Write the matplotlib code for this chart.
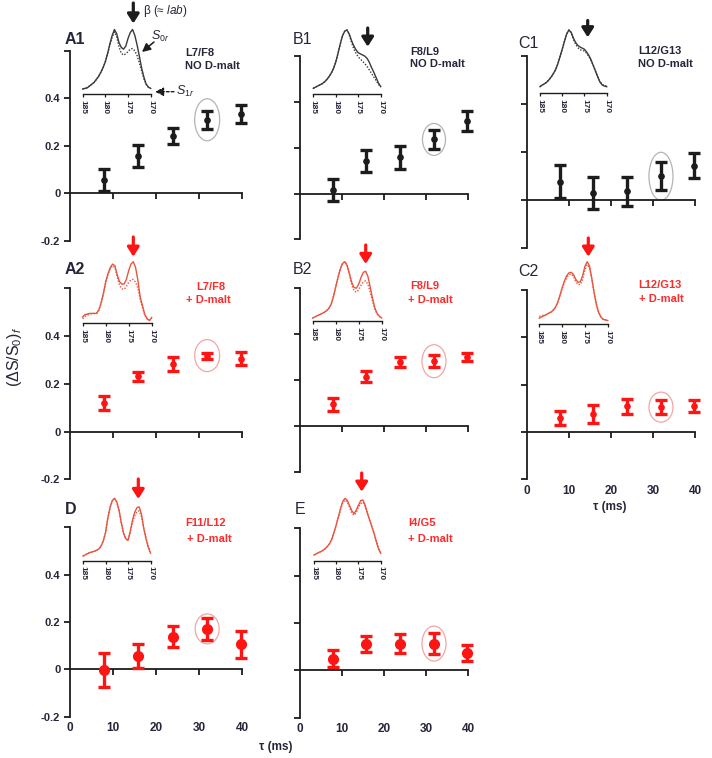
import numpy as np
import matplotlib
matplotlib.use('Agg')
import matplotlib.pyplot as plt
from matplotlib.patches import Ellipse

plt.rcParams['font.family'] = ['Liberation Sans', 'DejaVu Sans']
plt.rcParams['mathtext.fontset'] = 'custom'
plt.rcParams['mathtext.rm'] = 'Liberation Sans'
plt.rcParams['mathtext.it'] = 'Liberation Sans:italic'
plt.rcParams['mathtext.bf'] = 'Liberation Sans:bold'

W = 712.; H = 758.
Kcol = '#1c1c1c'; Rcol = '#ff1414'; Tcol = '#26263a'; Rtxt = '#ff2a2a'
Skcol = '#3a3a3a'; Srcol = '#e8553f'
Ekcol = '#b4b4b4'; Ercol = '#f5a5a5'

###############################################################################
### DATA
###############################################################################

## (dS/S0)f vs tau (ms)
tau = [7.9, 15.8, 23.9, 31.9, 39.8]
xt = [0, 10, 20, 30, 40]
yt = [-0.2, 0, 0.2, 0.4, 0.6]
yt_lab = ['-0.2', '0', '0.2', '0.4', '']

a1 = [0.056, 0.157, 0.241, 0.310, 0.335]
a1_err = [0.045, 0.045, 0.033, 0.038, 0.037]
b1 = [0.015, 0.142, 0.158, 0.237, 0.318]
b1_err = [0.048, 0.047, 0.049, 0.040, 0.044]
c1 = [0.075, 0.028, 0.035, 0.098, 0.142]
c1_err = [0.069, 0.068, 0.062, 0.058, 0.052]
a2 = [0.120, 0.231, 0.282, 0.318, 0.305]
a2_err = [0.028, 0.019, 0.029, 0.013, 0.028]
b2 = [0.096, 0.216, 0.281, 0.283, 0.302]
b2_err = [0.028, 0.025, 0.022, 0.026, 0.018]
c2 = [0.058, 0.077, 0.109, 0.105, 0.109]
c2_err = [0.030, 0.038, 0.032, 0.029, 0.025]
d = [-0.003, 0.055, 0.137, 0.171, 0.106]
d_err = [0.070, 0.051, 0.044, 0.048, 0.058]
e = [0.050, 0.112, 0.113, 0.113, 0.074]
e_err = [0.037, 0.035, 0.040, 0.044, 0.034]

## inset spectra, ppm 185 -> 170 in 0.5 ppm steps (S0r solid, S1r dotted)
ppm = np.linspace(185, 170, 31)
ins_ticks = [185, 180, 175, 170]

a1_s0 = [0.0, 0.01, 0.02, 0.05, 0.08, 0.11, 0.16, 0.21, 0.28, 0.36, 0.46, 0.60, 0.76, 0.90, 1.0, 0.93,
         0.78, 0.70, 0.67, 0.72, 0.85, 0.95, 1.0, 0.90, 0.74, 0.55, 0.35, 0.20, 0.08, 0.03, 0.01]
a1_s1 = [0.0, 0.01, 0.02, 0.05, 0.08, 0.11, 0.16, 0.21, 0.28, 0.36, 0.46, 0.59, 0.74, 0.87, 0.96, 0.88,
         0.71, 0.60, 0.57, 0.59, 0.63, 0.67, 0.68, 0.64, 0.56, 0.44, 0.30, 0.17, 0.08, 0.03, 0.01]
b1_s0 = [0.0, 0.02, 0.04, 0.06, 0.08, 0.11, 0.15, 0.20, 0.26, 0.34, 0.45, 0.60, 0.76, 0.90, 0.98, 1.0,
         0.93, 0.82, 0.73, 0.66, 0.61, 0.59, 0.57, 0.55, 0.51, 0.44, 0.35, 0.27, 0.18, 0.09, 0.03]
b1_s1 = [0.0, 0.02, 0.04, 0.06, 0.08, 0.11, 0.15, 0.20, 0.26, 0.34, 0.45, 0.60, 0.76, 0.90, 0.98, 1.0,
         0.92, 0.79, 0.68, 0.60, 0.54, 0.50, 0.46, 0.42, 0.37, 0.31, 0.25, 0.19, 0.13, 0.07, 0.02]
c1_s0 = [0.0, 0.03, 0.05, 0.08, 0.12, 0.17, 0.23, 0.30, 0.40, 0.53, 0.66, 0.80, 0.93, 1.0, 0.96, 0.86,
         0.78, 0.73, 0.70, 0.68, 0.66, 0.61, 0.55, 0.47, 0.37, 0.27, 0.17, 0.08, 0.03, 0.01, 0.0]
c1_s1 = [0.0, 0.03, 0.05, 0.08, 0.12, 0.17, 0.23, 0.30, 0.40, 0.53, 0.66, 0.80, 0.93, 1.0, 0.95, 0.84,
         0.75, 0.69, 0.65, 0.64, 0.63, 0.59, 0.53, 0.46, 0.37, 0.27, 0.17, 0.09, 0.04, 0.02, 0.01]
a2_s0 = [0.06, 0.10, 0.11, 0.12, 0.12, 0.12, 0.12, 0.18, 0.30, 0.46, 0.66, 0.80, 0.90, 0.96, 0.93, 0.78,
         0.66, 0.62, 0.62, 0.70, 0.85, 0.96, 1.0, 0.90, 0.68, 0.40, 0.25, 0.10, 0.03, 0.0, 0.05]
a2_s1 = [0.03, 0.07, 0.09, 0.11, 0.12, 0.12, 0.12, 0.17, 0.29, 0.45, 0.64, 0.78, 0.88, 0.93, 0.90, 0.74,
         0.60, 0.54, 0.53, 0.58, 0.65, 0.69, 0.70, 0.65, 0.55, 0.36, 0.22, 0.09, 0.03, 0.0, 0.04]
b2_s0 = [0.0, 0.02, 0.04, 0.06, 0.08, 0.10, 0.13, 0.17, 0.24, 0.38, 0.55, 0.72, 0.87, 0.97, 1.0, 0.93,
         0.78, 0.63, 0.54, 0.53, 0.60, 0.72, 0.81, 0.83, 0.74, 0.55, 0.35, 0.18, 0.08, 0.03, 0.0]
b2_s1 = [0.0, 0.02, 0.04, 0.06, 0.08, 0.10, 0.13, 0.17, 0.24, 0.38, 0.55, 0.72, 0.87, 0.97, 1.0, 0.93,
         0.77, 0.58, 0.48, 0.46, 0.50, 0.58, 0.64, 0.66, 0.60, 0.46, 0.30, 0.16, 0.07, 0.03, 0.0]
c2_s0 = [0.04, 0.06, 0.08, 0.10, 0.12, 0.14, 0.17, 0.22, 0.30, 0.42, 0.55, 0.67, 0.76, 0.81, 0.82, 0.78,
         0.70, 0.65, 0.66, 0.76, 0.92, 1.0, 0.93, 0.72, 0.48, 0.28, 0.14, 0.06, 0.02, 0.01, 0.0]
c2_s1 = [0.07, 0.08, 0.09, 0.10, 0.12, 0.14, 0.17, 0.22, 0.30, 0.42, 0.54, 0.65, 0.73, 0.78, 0.79, 0.75,
         0.66, 0.61, 0.61, 0.70, 0.86, 0.95, 0.90, 0.71, 0.48, 0.28, 0.14, 0.06, 0.02, 0.01, 0.0]
d_s0 = [0.0, 0.02, 0.04, 0.06, 0.07, 0.08, 0.10, 0.12, 0.17, 0.26, 0.40, 0.65, 0.84, 0.96, 1.0, 0.94,
        0.80, 0.58, 0.40, 0.30, 0.27, 0.43, 0.62, 0.76, 0.84, 0.85, 0.72, 0.48, 0.30, 0.15, 0.05]
d_s1 = [0.0, 0.02, 0.04, 0.06, 0.07, 0.08, 0.10, 0.12, 0.17, 0.26, 0.40, 0.64, 0.83, 0.95, 0.99, 0.93,
        0.79, 0.57, 0.40, 0.30, 0.27, 0.40, 0.58, 0.70, 0.77, 0.78, 0.68, 0.48, 0.32, 0.18, 0.08]
e_s0 = [0.0, 0.02, 0.04, 0.06, 0.08, 0.11, 0.15, 0.20, 0.28, 0.40, 0.53, 0.68, 0.83, 0.95, 1.0, 0.96,
        0.87, 0.78, 0.73, 0.79, 0.88, 0.96, 0.97, 0.88, 0.74, 0.62, 0.50, 0.38, 0.24, 0.11, 0.03]
e_s1 = [0.0, 0.02, 0.04, 0.06, 0.08, 0.11, 0.15, 0.20, 0.28, 0.40, 0.53, 0.67, 0.81, 0.93, 0.97, 0.93,
        0.84, 0.74, 0.70, 0.75, 0.84, 0.91, 0.93, 0.86, 0.74, 0.62, 0.51, 0.39, 0.26, 0.12, 0.04]

###############################################################################
### LAYOUT (all in pixels from top left)
###############################################################################

## main = (x at 0, x at 40, y at 0.6, y at -0.2)
## ins = (x at 185, x at 170, y of peak, y of axis, y of zero)
panels = [
    dict(tag='A1', y=a1, e=a1_err, s0=a1_s0, s1=a1_s1, red=False, ms=3.8, bold=True,
         main=(70, 242, 51, 240.7), ins=(82.7, 150.7, 29.5, 94.3, 89),
         lab=(65, 40), txt=[(185.7, 53, 'L7/F8'), (185, 66, 'NO D-malt')],
         arr=(133.3, 3, 23.5), ell=(25, 42), ytl=True, xtl=False),
    dict(tag='B1', y=b1, e=b1_err, s0=b1_s0, s1=b1_s1, red=False, ms=3.8, bold=False,
         main=(300, 468, 56.5, 239.3), ins=(313.3, 380.7, 30, 94.3, 88.3),
         lab=(293, 39), txt=[(410, 51.7, 'F8/L9'), (410, 64, 'NO D-malt')],
         arr=(367.7, 28, 46.7), ell=(23, 32), ytl=False, xtl=False),
    dict(tag='C1', y=c1, e=c1_err, s0=c1_s0, s1=c1_s1, red=False, ms=3.8, bold=False,
         main=(527, 695, 56, 247.7), ins=(540, 606.7, 30, 93.3, 86.7),
         lab=(518, 44), txt=[(638.3, 50.7, 'L12/G13'), (638.3, 64, 'NO D-malt')],
         arr=(587.7, 20.5, 37.3), ell=(24, 48), ytl=False, xtl=False),
    dict(tag='A2', y=a2, e=a2_err, s0=a2_s0, s1=a2_s1, red=True, ms=3.8, bold=True,
         main=(70, 242, 288.3, 479.3), ins=(82.7, 151.7, 261.7, 323.3, 320.5),
         lab=(65, 270), txt=[(196.7, 286.7, 'L7/F8'), (186, 300, '+ D-malt')],
         arr=(133.3, 237, 256.7), ell=(25, 32), ytl=True, xtl=False),
    dict(tag='B2', y=b2, e=b2_err, s0=b2_s0, s1=b2_s1, red=True, ms=3.8, bold=False,
         main=(300, 468, 288.3, 472.3), ins=(312.7, 381.7, 261.7, 321, 318),
         lab=(293, 270), txt=[(410, 285.7, 'F8/L9'), (408.3, 300, '+ D-malt')],
         arr=(365.7, 245, 264), ell=(24, 33), ytl=False, xtl=False),
    dict(tag='C2', y=c2, e=c2_err, s0=c2_s0, s1=c2_s1, red=True, ms=3.8, bold=False,
         main=(527, 695, 290, 479.3), ins=(539.3, 607.7, 261.7, 324.3, 320.5),
         lab=(518, 271), txt=[(638.3, 285, 'L12/G13'), (639.3, 299.3, '+ D-malt')],
         arr=(588.3, 238, 256.7), ell=(24, 30), ytl=False, xtl=True),
    dict(tag='D', y=d, e=d_err, s0=d_s0, s1=d_s1, red=True, ms=7, bold=True,
         main=(70, 242, 527.3, 716.7), ins=(83, 150.5, 498.3, 560.7, 556),
         lab=(65, 509), txt=[(185, 523.3, 'F11/L12'), (187.3, 539.3, '+ D-malt')],
         arr=(138.3, 479, 499), ell=(24, 30), ytl=True, xtl=True),
    dict(tag='E', y=e, e=e_err, s0=e_s0, s1=e_s1, red=True, ms=7, bold=False,
         main=(300, 468, 528.3, 717.7), ins=(314, 380.7, 498.3, 560.7, 555),
         lab=(295, 509), txt=[(408.3, 523.3, 'I4/G5'), (408.3, 539.3, '+ D-malt')],
         arr=(361.7, 473, 491.7), ell=(24, 35), ytl=False, xtl=True),
]


def frect(x0, x1, ytop, ybot):
    return [x0/W, 1 - ybot/H, (x1 - x0)/W, (ybot - ytop)/H]

def fx(x):
    return x/W

def fy(y):
    return 1 - y/H


fig = plt.figure(figsize=(W/100., H/100.), dpi=100)
fig.patch.set_facecolor('white')

for p in panels:
    col = Rcol if p['red'] else Kcol
    scol = Srcol if p['red'] else Skcol
    ecol = Ercol if p['red'] else Ekcol
    tcol = Rtxt if p['red'] else Tcol

    ## MAIN AXES
    x0, x40, y06, ym02 = p['main']
    ax = fig.add_axes(frect(x0, x40, y06, ym02))
    ax.patch.set_visible(False)
    ax.set_xlim(0, 40)
    ax.set_ylim(-0.2, 0.6)
    for sp in ['top', 'right']:
        ax.spines[sp].set_visible(False)
    ax.spines['bottom'].set_position(('data', 0))
    for sp in ['bottom', 'left']:
        ax.spines[sp].set_linewidth(1.3)
        ax.spines[sp].set_color(Kcol)
    ax.set_xticks(xt[1:])
    ax.set_xticklabels([])
    ax.set_yticks(yt)
    if p['ytl']:
        ax.set_yticklabels(yt_lab, fontsize=8, fontweight='bold', color=Tcol)
    else:
        ax.set_yticklabels([])
    ax.tick_params(direction='out', length=4, width=1.3, color=Kcol, pad=3)

    eb = ax.errorbar(tau, p['y'], yerr=p['e'], fmt='o', color=col, ms=p['ms'],
                     elinewidth=2.4, capsize=4, capthick=2.4, zorder=3)
    for art in eb.get_children():
        art.set_clip_on(False)

    ## circle around the 32 ms point
    px_x = (x40 - x0)/40.
    px_y = (ym02 - y06)/0.8
    ax.add_patch(Ellipse((tau[3], p['y'][3]), p['ell'][0]/px_x, p['ell'][1]/px_y,
                         fill=False, ec=ecol, lw=0.9, zorder=2))

    if p['xtl']:
        for t in xt:
            ax.annotate(str(t), xy=(t, 0), xycoords=('data', 'axes fraction'),
                        xytext=(0, -8.3), textcoords='offset points', ha='center', va='center',
                        fontsize=8.5, fontweight='bold', color=Tcol, annotation_clip=False)

    ## INSET SPECTRUM
    xl, xr, ypk, yax, yz = p['ins']
    iax = fig.add_axes(frect(xl, xr, ypk, yax))
    iax.patch.set_visible(False)
    iax.set_xlim(185, 170)
    iax.set_ylim(-(yax - yz)/(yz - ypk), 1.0)
    iax.plot(ppm, p['s0'], color=scol, lw=1.0, clip_on=False)
    iax.plot(ppm, p['s1'], color=scol, lw=1.0, ls=(0, (1, 1.2)), clip_on=False)
    for sp in ['left', 'top', 'right']:
        iax.spines[sp].set_visible(False)
    iax.spines['bottom'].set_linewidth(1.0)
    iax.spines['bottom'].set_color(Kcol)
    iax.set_yticks([])
    iax.set_xticks(ins_ticks)
    iax.set_xticklabels([str(t) for t in ins_ticks], rotation=-90, fontsize=6,
                        fontweight='bold', color=Tcol)
    iax.tick_params(axis='x', direction='out', length=2.5, width=0.9, color=Kcol, pad=1.5)

    ## LABELS
    fig.text(fx(p['lab'][0]), fy(p['lab'][1]), p['tag'], fontsize=11.5,
             fontweight='bold' if p['bold'] else 'normal', color=Tcol, ha='left', va='center')
    for (tx, ty, s) in p['txt']:
        fig.text(fx(tx), fy(ty), s, fontsize=8, fontweight='bold', color=tcol,
                 ha='left', va='center')

    ## ARROW ABOVE THE INSET
    axx, ytop, ytip = p['arr']
    ax.annotate('', xy=(fx(axx), fy(ytip)), xytext=(fx(axx), fy(ytop)),
                xycoords='figure fraction', textcoords='figure fraction',
                arrowprops=dict(arrowstyle='-|>,head_width=0.35,head_length=0.55',
                                lw=2.3, color=col, shrinkA=0, shrinkB=0, mutation_scale=10),
                annotation_clip=False)

## extra annotations on A1
fig.text(fx(143), fy(11), r'β (≈ $\mathit{lab}$)', fontsize=8.5, color=Tcol, ha='left', va='center')
fig.text(fx(151), fy(36), r'$S_{0r}$', fontsize=9, color=Tcol, ha='left', va='center')
ax_top = fig.axes[0]
ax_top.annotate('', xy=(fx(142), fy(52)), xytext=(fx(154), fy(42)),
                xycoords='figure fraction', textcoords='figure fraction',
                arrowprops=dict(arrowstyle='-|>,head_width=0.25,head_length=0.5',
                                lw=1.1, color=Kcol, shrinkA=0, shrinkB=0, mutation_scale=10),
                annotation_clip=False)
ax_top.annotate('', xy=(fx(155), fy(91.7)), xytext=(fx(174), fy(91.7)),
                xycoords='figure fraction', textcoords='figure fraction',
                arrowprops=dict(arrowstyle='-|>,head_width=0.25,head_length=0.5',
                                lw=1.0, ls=(0, (2, 1.5)), color=Kcol, shrinkA=0, shrinkB=0,
                                mutation_scale=10),
                annotation_clip=False)
fig.text(fx(176), fy(91.7), r'$S_{1r}$', fontsize=9, color=Tcol, ha='left', va='center')

## axis titles
fig.text(fx(15), fy(357), r'$(\Delta\mathrm{S/S}_{0})_{\mathit{f}}$', rotation=90,
         fontsize=11.5, color=Tcol, ha='center', va='center')
fig.text(fx(610), fy(506.7), 'τ (ms)', fontsize=8.5, fontweight='bold', color=Tcol,
         ha='center', va='center')
fig.text(fx(276), fy(746.7), 'τ (ms)', fontsize=8.5, fontweight='bold', color=Tcol,
         ha='center', va='center')

plt.savefig('out.png', dpi=100)
